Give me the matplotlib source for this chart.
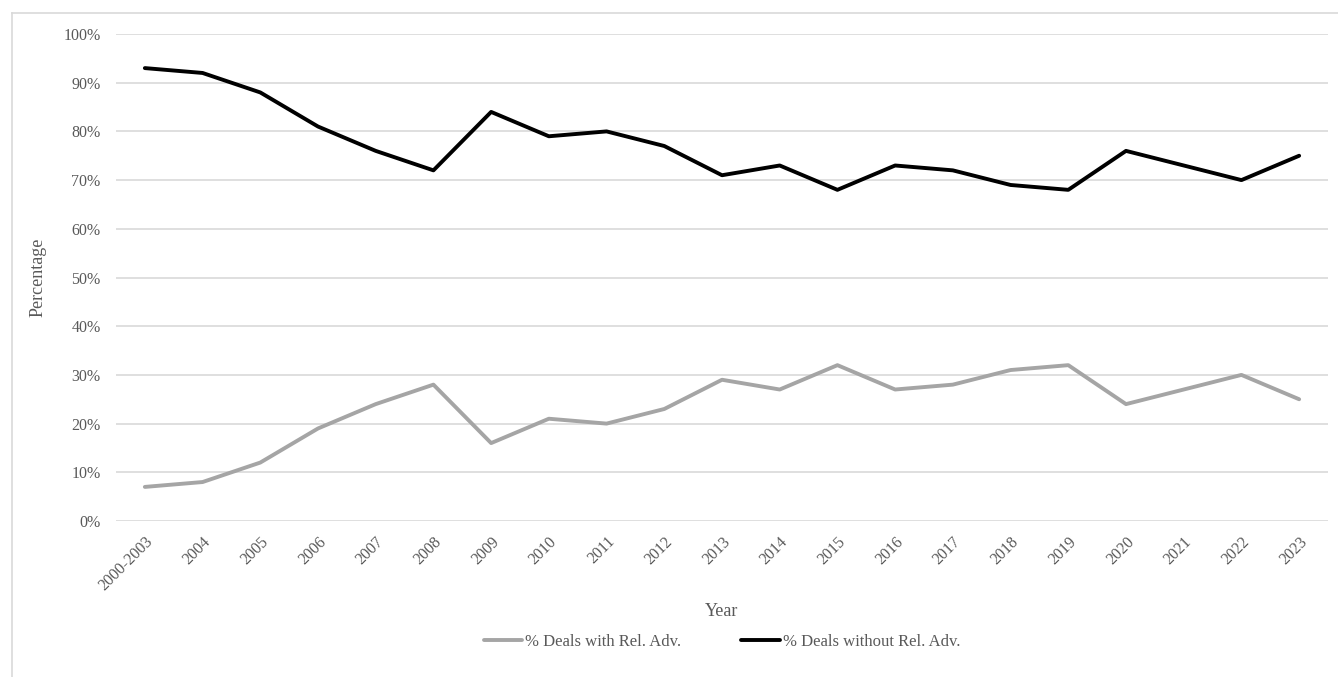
import matplotlib
matplotlib.use('Agg')
from matplotlib import pyplot as plt
from matplotlib.lines import Line2D
from matplotlib.ticker import PercentFormatter

years = ['2000-2003', '2004', '2005', '2006', '2007', '2008', '2009', '2010',
         '2011', '2012', '2013', '2014', '2015', '2016', '2017', '2018',
         '2019', '2020', '2021', '2022', '2023']
withRelAdv = [7, 8, 12, 19, 24, 28, 16, 21, 20, 23, 29, 27, 32, 27, 28, 31,
              32, 24, 27, 30, 25]
withoutRelAdv = [93, 92, 88, 81, 76, 72, 84, 79, 80, 77, 71, 73, 68, 73, 72,
                 69, 68, 76, 73, 70, 75]
yTicks = list(range(0, 101, 10))

textColor = '#595959'
gridColor = '#D9D9D9'

plt.rcParams['font.family'] = ['Liberation Serif', 'DejaVu Serif']

W, H = 1338, 677
fig = plt.figure(figsize=(W / 100, H / 100), dpi=100)
ax = fig.add_axes([116 / W, 1 - 521 / H, (1328 - 116) / W, (521 - 34) / H])

x = list(range(len(years)))
ax.plot(x, withRelAdv, color='#A5A5A5', lw=2.8, solid_joinstyle='round',
        solid_capstyle='round', label='% Deals with Rel. Adv.')
ax.plot(x, withoutRelAdv, color='black', lw=2.8, solid_joinstyle='round',
        solid_capstyle='round', label='% Deals without Rel. Adv.')

ax.set_xlim(-0.5, len(years) - 0.5)
ax.set_ylim(0, 100)
ax.set_yticks(yTicks)
ax.yaxis.set_major_formatter(PercentFormatter(decimals=0))
ax.set_xticks(x)
ax.set_xticklabels(years, rotation=45, ha='right', rotation_mode='anchor')
ax.tick_params(axis='both', length=0, labelsize=11.5, colors=textColor)
ax.tick_params(axis='x', pad=9)
ax.tick_params(axis='y', pad=11)
ax.grid(axis='y', color=gridColor, lw=1.2)
ax.set_axisbelow(True)
for s in ax.spines.values():
    s.set_visible(False)

ax.set_xlabel('Year', fontsize=13, color=textColor)
ax.xaxis.set_label_coords(0.5, -0.168)
ax.set_ylabel('Percentage', fontsize=13, color=textColor)
ax.yaxis.set_label_coords(-0.057, 0.5)

fig.legend(loc='center', bbox_to_anchor=(722 / W, 1 - 642 / H), ncol=2,
           frameon=False, fontsize=12, handlelength=2.3, handletextpad=0.2,
           columnspacing=3.6, labelcolor=textColor)

# chart border (cut off on the right and bottom)
fig.add_artist(Line2D([12 / W, 12 / W], [0, 1 - 13 / H], color=gridColor,
                      lw=1.2, transform=fig.transFigure))
fig.add_artist(Line2D([12 / W, 1], [1 - 13 / H, 1 - 13 / H], color=gridColor,
                      lw=1.2, transform=fig.transFigure))

fig.savefig('out.png', dpi=100)
